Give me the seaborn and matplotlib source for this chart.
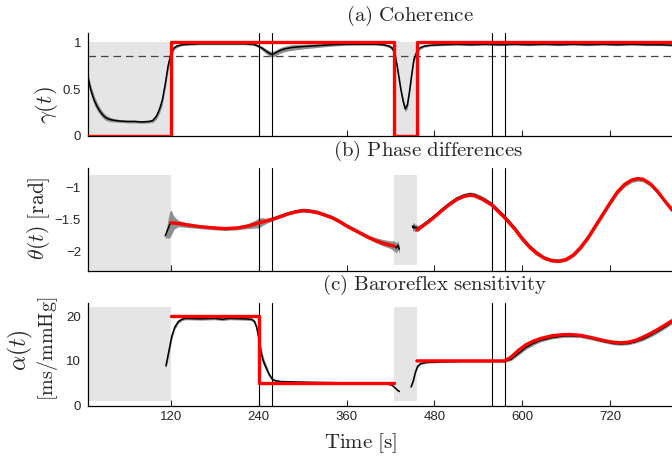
import numpy as np
import matplotlib
matplotlib.use("Agg")
import matplotlib.pyplot as plt
import seaborn as sns

# ---------------- data ----------------
# (a) coherence: estimate, band half-width, and true step profile
coh_t = [7, 10, 15, 20, 25, 30, 35, 40, 50, 60, 70, 80, 90, 95, 100, 104, 108, 112, 116,
         120, 124, 128, 135, 145, 160, 180, 200, 220, 232, 238, 244, 250, 255, 258, 262,
         268, 275, 285, 300, 320, 340, 360, 380, 400, 410, 418, 422, 426, 430, 434, 437,
         440, 443, 446, 449, 452, 456, 460, 466, 475, 490, 510, 530, 550, 570, 590, 610,
         630, 650, 670, 690, 710, 730, 750, 770, 790, 805]
coh_est = [0.61, 0.50, 0.38, 0.30, 0.24, 0.20, 0.18, 0.17, 0.16, 0.155, 0.155, 0.15, 0.155,
           0.165, 0.21, 0.28, 0.38, 0.55, 0.75, 0.88, 0.94, 0.96, 0.975, 0.98, 0.985, 0.985,
           0.985, 0.985, 0.98, 0.965, 0.94, 0.905, 0.88, 0.87, 0.885, 0.91, 0.93, 0.945,
           0.955, 0.965, 0.975, 0.98, 0.98, 0.98, 0.975, 0.96, 0.94, 0.88, 0.70, 0.50, 0.38,
           0.29, 0.33, 0.48, 0.66, 0.82, 0.90, 0.94, 0.96, 0.97, 0.975, 0.98, 0.975, 0.98,
           0.975, 0.98, 0.975, 0.98, 0.975, 0.98, 0.975, 0.98, 0.975, 0.98, 0.975, 0.975, 0.97]
coh_hw = [0.04, 0.05, 0.05, 0.04, 0.035, 0.03, 0.025, 0.02, 0.015, 0.015, 0.015, 0.015, 0.015,
          0.02, 0.03, 0.04, 0.05, 0.05, 0.05, 0.04, 0.02, 0.015, 0.01, 0.01, 0.01, 0.01,
          0.01, 0.01, 0.012, 0.015, 0.02, 0.025, 0.03, 0.03, 0.03, 0.03, 0.03, 0.03,
          0.025, 0.02, 0.015, 0.012, 0.01, 0.01, 0.012, 0.015, 0.02, 0.03, 0.04, 0.04, 0.04,
          0.03, 0.04, 0.04, 0.04, 0.03, 0.02, 0.015, 0.012, 0.01, 0.01, 0.01, 0.01, 0.01,
          0.01, 0.01, 0.01, 0.01, 0.01, 0.01, 0.01, 0.01, 0.01, 0.01, 0.01, 0.01, 0.01]
coh_true_t = [7, 120, 120, 425, 425, 456, 456, 805]
coh_true = [0, 0, 1, 1, 0, 0, 1, 1]
coh_threshold = 0.85

# (b) phase differences [rad]: true profile in two pieces
ph_true_t1 = [120, 130, 140, 160, 180, 194, 210, 225, 240, 250, 260, 270, 280, 290, 300,
              310, 320, 330, 340, 350, 360, 370, 380, 390, 400, 410, 420, 425]
ph_true_1 = [-1.55, -1.56, -1.58, -1.61, -1.63, -1.64, -1.63, -1.60, -1.55, -1.52, -1.49,
             -1.45, -1.41, -1.38, -1.36, -1.37, -1.39, -1.43, -1.47, -1.53, -1.60, -1.66,
             -1.72, -1.78, -1.83, -1.87, -1.90, -1.91]
ph_true_t2 = [456, 470, 480, 490, 500, 510, 520, 528, 535, 545, 558, 567, 576, 590, 600,
              610, 620, 630, 640, 650, 660, 670, 680, 690, 700, 710, 720, 730, 740, 750,
              758, 765, 775, 785, 795, 805]
ph_true_2 = [-1.66, -1.55, -1.46, -1.36, -1.27, -1.19, -1.14, -1.12, -1.13, -1.18, -1.27,
             -1.37, -1.47, -1.65, -1.80, -1.93, -2.03, -2.10, -2.14, -2.15, -2.12, -2.05,
             -1.93, -1.78, -1.60, -1.42, -1.24, -1.07, -0.95, -0.88, -0.86, -0.87, -0.94,
             -1.06, -1.21, -1.35]
# estimated phase with its band
ph_est_t1 = [112, 114, 116, 118, 120, 124, 130, 140, 160, 180, 194, 210, 225, 235, 240, 245,
             250, 260, 270, 280, 290, 300, 310, 320, 330, 340, 350, 360, 370, 380, 390, 400,
             410, 420, 425, 428, 430, 432]
ph_est_1 = [-1.75, -1.70, -1.64, -1.58, -1.55, -1.55, -1.56, -1.58, -1.61, -1.63, -1.64,
            -1.63, -1.60, -1.57, -1.55, -1.53, -1.52, -1.48, -1.44, -1.40, -1.37, -1.35,
            -1.36, -1.38, -1.42, -1.46, -1.52, -1.59, -1.65, -1.71, -1.77, -1.82, -1.86,
            -1.89, -1.91, -1.94, -1.90, -1.96]
ph_hw_1 = [0.05, 0.08, 0.15, 0.2, 0.2, 0.1, 0.05, 0.04, 0.03, 0.03, 0.03, 0.03, 0.04, 0.06,
           0.08, 0.06, 0.04, 0.03, 0.03, 0.03, 0.03, 0.03, 0.03, 0.03, 0.03, 0.03, 0.03,
           0.03, 0.03, 0.03, 0.03, 0.04, 0.05, 0.06, 0.08, 0.08, 0.07, 0.06]
ph_est_t2 = [450, 451, 452, 453, 455, 457, 460, 470, 480, 490, 500, 510, 520, 528, 535, 545,
             558, 567, 576, 590, 600, 610, 620, 630, 640, 650, 660, 670, 680, 690, 700, 710,
             720, 730, 740, 750, 758, 765, 775, 785, 795, 805]
ph_est_2 = [-1.60, -1.63, -1.60, -1.63, -1.62, -1.64, -1.62, -1.53, -1.44, -1.34, -1.25,
            -1.17, -1.12, -1.10, -1.11, -1.16, -1.25, -1.35, -1.45, -1.63, -1.78, -1.91,
            -2.01, -2.09, -2.13, -2.14, -2.12, -2.05, -1.94, -1.79, -1.61, -1.43, -1.25,
            -1.08, -0.96, -0.89, -0.87, -0.88, -0.95, -1.07, -1.22, -1.36]
ph_hw_2 = [0.06, 0.06, 0.06, 0.06, 0.05, 0.05, 0.04, 0.03, 0.03, 0.03, 0.03, 0.03, 0.03,
           0.03, 0.03, 0.03, 0.03, 0.03, 0.03, 0.03, 0.03, 0.03, 0.03, 0.03, 0.03, 0.03,
           0.03, 0.03, 0.03, 0.03, 0.03, 0.03, 0.03, 0.03, 0.03, 0.03, 0.03, 0.03, 0.03,
           0.03, 0.03, 0.03]

# (c) baroreflex sensitivity [ms/mmHg]
brs_true_t1 = [120, 240, 240, 425]
brs_true_1 = [20, 20, 5, 5]
brs_true_t2 = [456, 576, 585, 595, 605, 615, 625, 640, 655, 665, 680, 695, 710, 725, 735,
               745, 755, 765, 775, 785, 795, 805]
brs_true_2 = [10, 10, 10.9, 12.4, 13.6, 14.4, 15.0, 15.6, 15.85, 15.9, 15.7, 15.2, 14.6,
              14.15, 14.05, 14.2, 14.6, 15.3, 16.1, 17.0, 18.0, 19.0]
brs_est_t1 = [113, 115, 118, 121, 125, 130, 135, 140, 160, 180, 190, 200, 220, 230, 234,
              237, 240, 243, 246, 250, 254, 258, 262, 270, 290, 320, 360, 400, 415, 422,
              426, 430, 432]
brs_est_1 = [8.9, 10.5, 13.0, 15.5, 17.5, 18.8, 19.3, 19.5, 19.4, 19.5, 19.3, 19.5, 19.4,
             19.3, 18.8, 17.5, 15.0, 12.0, 10.0, 8.5, 7.0, 6.0, 5.6, 5.4, 5.3, 5.2, 5.1,
             5.0, 4.9, 4.6, 4.0, 3.4, 3.2]
brs_hw_1 = [0.6, 0.8, 0.8, 0.7, 0.5, 0.4, 0.3, 0.3, 0.3, 0.3, 0.3, 0.3, 0.3, 0.3, 0.4,
            0.6, 0.9, 1.0, 0.9, 0.7, 0.5, 0.3, 0.2, 0.2, 0.15, 0.15, 0.15, 0.15, 0.15,
            0.2, 0.2, 0.2, 0.2]
brs_est_t2 = [448, 451, 454, 457, 461, 470, 490, 520, 560, 576, 585, 595, 605, 615, 625,
              640, 655, 665, 680, 695, 710, 725, 735, 745, 755, 765, 775, 785, 795, 805]
brs_est_2 = [4.2, 5.5, 7.5, 8.8, 9.4, 9.7, 9.8, 9.9, 9.9, 9.9, 10.4, 11.7, 13.0, 13.9,
             14.6, 15.2, 15.55, 15.6, 15.5, 15.0, 14.4, 13.9, 13.8, 13.9, 14.3, 14.9,
             15.7, 16.6, 17.6, 18.7]
brs_hw_2 = [0.3, 0.4, 0.4, 0.3, 0.2, 0.2, 0.15, 0.15, 0.15, 0.15, 0.3, 0.4, 0.4, 0.4,
            0.35, 0.3, 0.3, 0.3, 0.3, 0.3, 0.3, 0.3, 0.3, 0.3, 0.3, 0.35, 0.4, 0.4, 0.4, 0.4]

# event markers and excluded (low-coherence) intervals
event_lines = [240, 258, 558, 576]
excluded = [(7, 120), (425, 456)]
x_ticks = [120, 240, 360, 480, 600, 720]

# ---------------- style ----------------
sns.set_style("ticks")
plt.rcParams["font.family"] = ["Liberation Sans", "DejaVu Sans"]
plt.rcParams["mathtext.fontset"] = "cm"

W, H = 672, 461
fig = plt.figure(figsize=(W / 100, H / 100), dpi=100)

def axes_px(top, bottom, left=88, right=672):
    return fig.add_axes([left / W, 1 - bottom / H, (right - left) / W, (bottom - top) / H])

ax_a = axes_px(33, 136)
ax_b = axes_px(168.3, 271)
ax_c = axes_px(302.7, 405.7)

XLIM = (6.5, 804.7)
SHADE = "#e5e5e5"
BAND = "#8e8e8e"
RED = "#ff0000"

def line(ax, x, y, color, lw, z):
    sns.lineplot(x=x, y=y, ax=ax, color=color, linewidth=lw, estimator=None,
                 sort=False, zorder=z, legend=False)

def band(ax, x, y, hw):
    y = np.asarray(y, float)
    hw = np.asarray(hw, float)
    ax.fill_between(x, y - hw, y + hw, color=BAND, lw=0, zorder=2)

def frame(ax, ylim, yticks, yticklabels, show_x):
    ax.set_xlim(*XLIM)
    ax.set_ylim(*ylim)
    ax.set_yticks(yticks)
    ax.set_yticklabels(yticklabels)
    ax.set_xticks(x_ticks)
    if show_x:
        ax.set_xticklabels([str(v) for v in x_ticks])
    else:
        ax.set_xticklabels([])
    ax.tick_params(axis="x", direction="in", length=4, width=0.8, labelsize=9.5, pad=4)
    ax.tick_params(axis="y", length=0, labelsize=9.5, pad=5)
    for s in ("top", "right"):
        ax.spines[s].set_visible(False)
    for s in ("left", "bottom"):
        ax.spines[s].set_linewidth(0.9)
        ax.spines[s].set_color("black")
    ax.set_xlabel("")
    ax.set_ylabel("")
    ax.patch.set_alpha(0)

def events(ax):
    for xv in event_lines:
        ax.axvline(xv, color="black", lw=0.8, zorder=3)

# (a) coherence
ax = ax_a
ax.add_patch(plt.Rectangle((excluded[0][0], 0), excluded[0][1] - excluded[0][0], 1,
                           color=SHADE, lw=0, zorder=0))
ax.add_patch(plt.Rectangle((excluded[1][0], 0), excluded[1][1] - excluded[1][0], 1,
                           color=SHADE, lw=0, zorder=0))
ax.axhline(coh_threshold, color="#444444", lw=0.9, ls=(0, (6, 4)), zorder=1)
band(ax, coh_t, coh_est, coh_hw)
line(ax, coh_t, coh_est, "black", 1.1, 4)
events(ax)
line(ax, coh_true_t, coh_true, RED, 2.4, 5)
frame(ax, (0, 1.1), [0, 0.5, 1], ["0", "0.5", "1"], False)

# (b) phase differences
ax = ax_b
ax.add_patch(plt.Rectangle((excluded[0][0], -2.3), excluded[0][1] - excluded[0][0], 1.5,
                           color=SHADE, lw=0, zorder=0))
ax.add_patch(plt.Rectangle((excluded[1][0], -2.2), excluded[1][1] - excluded[1][0], 1.4,
                           color=SHADE, lw=0, zorder=0))
band(ax, ph_est_t1, ph_est_1, ph_hw_1)
band(ax, ph_est_t2, ph_est_2, ph_hw_2)
line(ax, ph_est_t1, ph_est_1, "black", 1.1, 4)
line(ax, ph_est_t2, ph_est_2, "black", 1.1, 4)
events(ax)
line(ax, ph_true_t1, ph_true_1, RED, 2.4, 5)
line(ax, ph_true_t2, ph_true_2, RED, 2.4, 5)
frame(ax, (-2.3, -0.7), [-2, -1.5, -1], ["\u22122", "\u22121.5", "\u22121"], False)

# (c) baroreflex sensitivity
ax = ax_c
for lo, hi in excluded:
    ax.add_patch(plt.Rectangle((lo, 1), hi - lo, 21, color=SHADE, lw=0, zorder=0))
band(ax, brs_est_t1, brs_est_1, brs_hw_1)
band(ax, brs_est_t2, brs_est_2, brs_hw_2)
line(ax, brs_est_t1, brs_est_1, "black", 1.1, 4)
line(ax, brs_est_t2, brs_est_2, "black", 1.1, 4)
events(ax)
line(ax, brs_true_t1, brs_true_1, RED, 2.4, 5)
line(ax, brs_true_t2, brs_true_2, RED, 2.4, 5)
frame(ax, (0, 23), [0, 10, 20], ["0", "10", "20"], True)

# titles and axis labels
def ftext(x, y, s, size, rot=0):
    fig.text(x / W, 1 - y / H, s, fontsize=size, rotation=rot, ha="center", va="center")

ftext(410, 16, r"$\mathrm{(a)\ Coherence}$", 15)
ftext(428, 151, r"$\mathrm{(b)\ Phase\ differences}$", 15)
ftext(435, 285, r"$\mathrm{(c)\ Baroreflex\ sensitivity}$", 15)
ftext(360, 443, r"$\mathrm{Time\ [s]}$", 15)
ftext(46, 105, r"$\gamma(t)$", 16.5, 90)
ftext(39, 218, r"$\theta(t)\ \mathrm{[rad]}$", 15.5, 90)
ftext(20, 350, r"$\alpha(t)$", 17, 90)
ftext(48, 349, r"$\mathrm{[ms/mmHg]}$", 14.5, 90)

fig.savefig("out.png", dpi=100)
